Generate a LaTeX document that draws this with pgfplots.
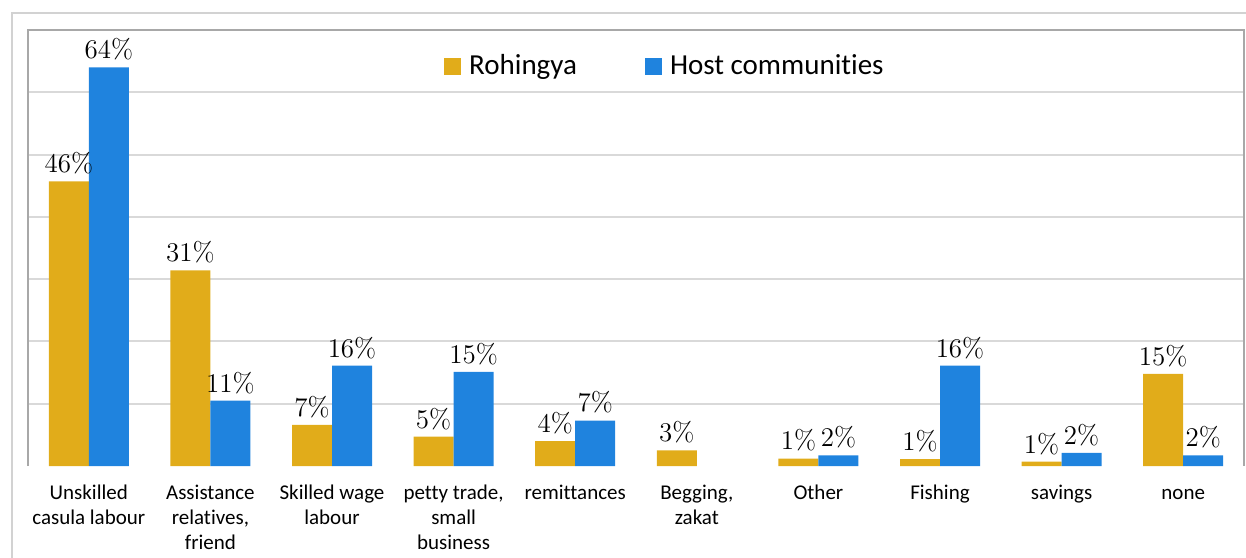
\documentclass[border=0pt]{standalone}
\usepackage{fontspec}
\usepackage{pgfplots}
\usepackage{pgfplotstable}
\pgfplotsset{compat=1.18}
\newfontfamily\carlito[Ligatures=NoCommon]{Carlito}
\definecolor{rohgold}{RGB}{225,172,26}
\definecolor{hostblue}{RGB}{31,131,222}
\definecolor{gridgray}{RGB}{217,217,217}
\definecolor{framegray}{RGB}{168,168,168}
\definecolor{bordergray}{RGB}{210,210,210}

% bar heights, lab = printed label
\pgfplotstableread{
x y lab
0 45.7 46
1 31.4 31
2 6.6 7
3 4.7 5
4 4.0 4
5 2.5 3
6 1.2 1
7 1.1 1
8 0.7 1
9 14.8 15
}\tabR
\pgfplotstableread{
x y lab
0 64.0 64
1 10.5 11
2 16.1 16
3 15.1 15
4 7.3 7
6 1.7 2
7 16.1 16
8 2.1 2
9 1.7 2
}\tabH

\begin{document}
\begin{tikzpicture}
\useasboundingbox (0,0) rectangle (623pt,278.5pt);
\draw[bordergray, line width=1pt] (6pt,-5pt) -- (6pt,272pt) -- (640pt,272pt);
\begin{axis}[
  at={(14pt,45.5pt)}, anchor=south west,
  scale only axis, width=608pt, height=218pt,
  ybar=0pt, bar width=20pt,
  xmin=-0.5, xmax=9.5, ymin=0, ymax=70,
  enlarge x limits=false,
  axis line style={draw=none},
  major tick length=0pt,
  ytick={10,20,...,60}, yticklabels={},
  ymajorgrids, grid style={gridgray, line width=1pt},
  xtick={0,...,9},
  xticklabels={{\strut Unskilled\\casula labour}, {\strut Assistance\\relatives,\\friend},
    {\strut Skilled wage\\labour}, {\strut petty trade,\\small\\business}, \strut remittances,
    {\strut Begging,\\zakat}, \strut Other, \strut Fishing, \strut savings, \strut none},
  xticklabel style={font=\carlito\fontsize{10.5}{12.5}\selectfont, align=center,
    anchor=north, yshift=-4.5pt},
  point meta=explicit symbolic,
  nodes near coords={\pgfplotspointmeta\%},
  nodes near coords style={font=\fontsize{13.5}{14}\selectfont, text=black},
  clip=false,
  legend columns=2,
  legend style={draw=none, fill=none, at={(0.337,0.917)}, anchor=west,
    font=\carlito\fontsize{14.5}{16}\selectfont,
    /tikz/every odd column/.append style={column sep=2pt},
    /tikz/every even column/.append style={column sep=32pt}},
]
\addplot[fill=rohgold, draw=none,
  legend image code/.code={\fill[rohgold] (0pt,-4.25pt) rectangle (8.5pt,4.25pt);}]
  table[x=x, y=y, meta=lab] {\tabR};
\addplot[fill=hostblue, draw=none,
  legend image code/.code={\fill[hostblue] (0pt,-4.25pt) rectangle (8.5pt,4.25pt);}]
  table[x=x, y=y, meta=lab] {\tabH};
\legend{Rohingya, Host communities}
\draw[framegray, line width=1pt] (rel axis cs:0,0) -- (rel axis cs:0,1)
  -- (rel axis cs:1,1) -- (rel axis cs:1,0);
\end{axis}
\end{tikzpicture}
\end{document}
